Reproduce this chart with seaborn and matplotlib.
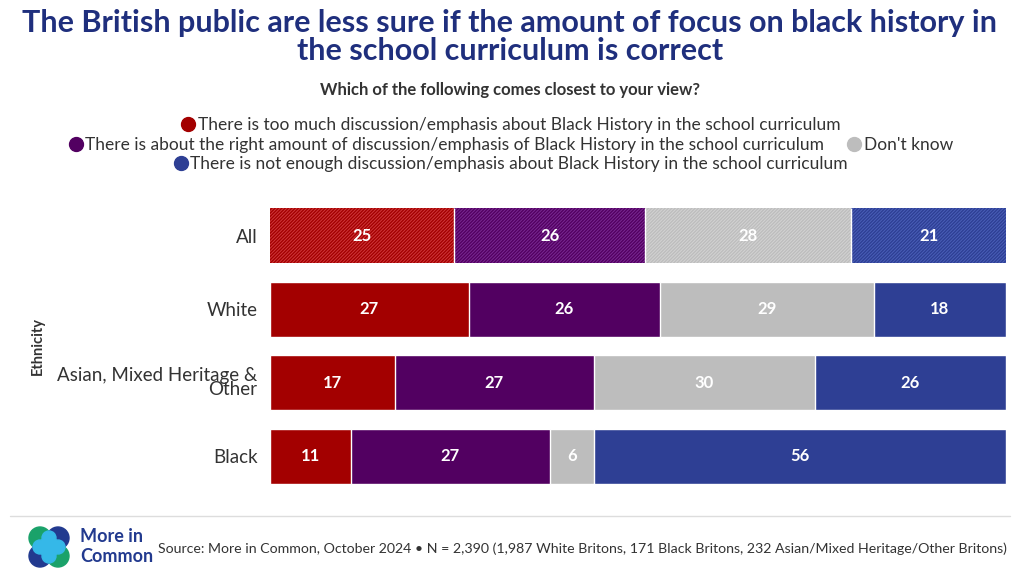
import matplotlib
matplotlib.use("Agg")
import matplotlib.pyplot as plt
from matplotlib.lines import Line2D
from matplotlib.patches import Circle
import numpy as np
import pandas as pd
import seaborn as sns

# dados
groups = ["All", "White", "Asian, Mixed Heritage &\nOther", "Black"]
too_much = [25, 27, 17, 11]
right_amount = [26, 26, 27, 27]
dont_know = [28, 29, 30, 6]
not_enough = [21, 18, 26, 56]

answers = [
    "There is too much discussion/emphasis about Black History in the school curriculum",
    "There is about the right amount of discussion/emphasis of Black History in the school curriculum",
    "Don't know",
    "There is not enough discussion/emphasis about Black History in the school curriculum",
]
colors = ["#a30000", "#520061", "#bdbdbd", "#2e3f94"]
light_colors = ["#d0383c", "#7a2a92", "#d3d3d3", "#4a5fb8"]

sns.set_theme(style="white")
plt.rcParams["font.family"] = ["Lato", "DejaVu Sans"]

df = pd.DataFrame({"group": groups, "a": too_much, "b": right_amount,
                   "c": dont_know, "d": not_enough})
vals = df[["a", "b", "c", "d"]].to_numpy()
cum = vals.cumsum(axis=1)

fig = plt.figure(figsize=(10.2, 5.81), dpi=100)
ax = fig.add_axes([0.2647, 0.1515, 0.7216, 0.506])

# barras empilhadas: desenha do total para o menor
for k in range(3, -1, -1):
    sns.barplot(x=cum[:, k], y=df["group"], orient="h", color=colors[k],
                width=0.75, edgecolor="white", linewidth=1, saturation=1, ax=ax)

# linha "All" com hachura
n_rows = len(groups)
for i, p in enumerate(ax.patches):
    k = 3 - i // n_rows
    row = i % n_rows
    if row == 0:
        p.set_facecolor(light_colors[k])
        p.set_edgecolor(colors[k])
        p.set_hatch("//////////")
        p.set_linewidth(0)
ax.vlines(cum[0, :3], -0.375, 0.375, color="white", linewidth=1, zorder=5)

# rótulos
for r in range(n_rows):
    start = 0
    for k in range(4):
        v = vals[r, k]
        ax.text(start + v / 2, r, f"{v}", ha="center", va="center",
                color="white", fontsize=12, fontweight="bold", zorder=6)
        start += v

ax.set_xlim(0, 100)
ax.set_ylim(3.5, -0.5)
ax.set_xticks([])
ax.set_xlabel("")
ax.set_ylabel("Ethnicity", fontsize=10.5, fontweight="bold", color="#333333")
ax.yaxis.set_label_coords(-0.306, 0.5)
ax.tick_params(axis="y", length=0, labelsize=13.5, labelcolor="#333333", pad=9)
for t in ax.get_yticklabels():
    t.set_linespacing(0.8)
sns.despine(ax=ax, left=True, bottom=True)

# títulos
fig.text(0.5, 0.960, "The British public are less sure if the amount of focus on black history in",
         ha="center", va="center", fontsize=22, fontweight="bold", color="#1f2f7d")
fig.text(0.5, 0.912, "the school curriculum is correct",
         ha="center", va="center", fontsize=22, fontweight="bold", color="#1f2f7d")
fig.text(0.5, 0.845, "Which of the following comes closest to your view?",
         ha="center", va="center", fontsize=12, fontweight="bold", color="#333333")

# legenda em três linhas
def handle(c):
    return Line2D([], [], marker="o", linestyle="", markersize=10,
                  markerfacecolor=c, markeredgecolor=c)

legend_rows = [([0], 0.785), ([1, 2], 0.751), ([3], 0.717)]
for idx, y in legend_rows:
    leg = fig.legend([handle(colors[i]) for i in idx], [answers[i] for i in idx],
                     loc="center", bbox_to_anchor=(0.5, y), ncol=len(idx),
                     frameon=False, handletextpad=0.05, columnspacing=1.2,
                     fontsize=12.5, borderpad=0, handlelength=1.0)
    for t in leg.get_texts():
        t.set_color("#333333")

# rodapé
fig.add_artist(Line2D([0.01, 0.99], [1 - 516 / 581] * 2, color="#dddddd", linewidth=1))
fig.text(158 / 1020, 1 - 549 / 581,
         "Source: More in Common, October 2024 \u2022 N = 2,390 (1,987 White Britons, 171 Black Britons, 232 Asian/Mixed Heritage/Other Britons)",
         ha="left", va="center", fontsize=10.2, color="#333333")

# logo
lax = fig.add_axes([28 / 1020, 1 - 568 / 581, 42 / 1020, 42 / 581])
lax.set_xlim(0, 42)
lax.set_ylim(0, 42)
lax.set_aspect("equal")
lax.axis("off")
for (cx, cy), c in zip([(12, 30), (30, 30), (12, 12), (30, 12)],
                       ["#1aa26a", "#223a8f", "#223a8f", "#1aa26a"]):
    lax.add_patch(Circle((cx, cy), 11, color=c))
for (cx, cy) in [(21, 30), (21, 12), (12, 21), (30, 21)]:
    lax.add_patch(Circle((cx, cy), 7, color="#35b8e8"))
lax.add_patch(Circle((21, 21), 10, color="#35b8e8"))
fig.text(80 / 1020, 1 - 537 / 581, "More in", ha="left", va="center",
         fontsize=13, fontweight="bold", color="#223a8f")
fig.text(80 / 1020, 1 - 556 / 581, "Common", ha="left", va="center",
         fontsize=13, fontweight="bold", color="#223a8f")

fig.savefig("out.png", dpi=100)
